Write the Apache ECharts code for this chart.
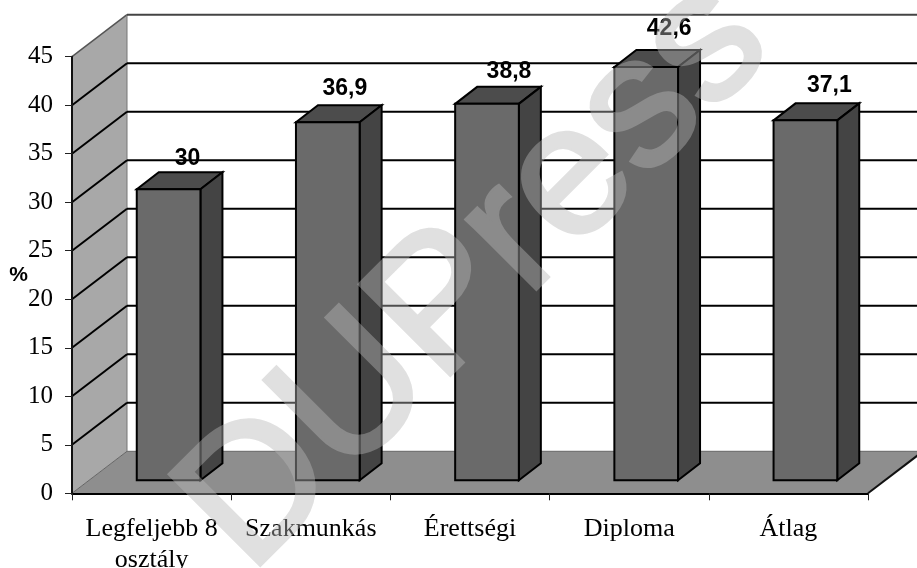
<!DOCTYPE html>
<html>
<head>
<meta charset="utf-8">
<style>
  html, body { margin: 0; padding: 0; background: #fff; }
  #chart { width: 917px; height: 568px; }
</style>
<script src="https://cdn.jsdelivr.net/npm/echarts@6/dist/echarts.min.js"></script>
</head>
<body>
<div id="chart"></div>
<script>
const categories = ['Legfeljebb 8\nosztály', 'Szakmunkás', 'Érettségi', 'Diploma', 'Átlag'];
const values = [30, 36.9, 38.8, 42.6, 37.1];
const valueLabels = ['30', '36,9', '38,8', '42,6', '37,1'];
const yTicks = [5, 10, 15, 20, 25, 30, 35, 40, 45];

// fake 3d offsets, in pixels
const WALL_DX = 55;
const WALL_DY = -42;
const BAR_SHIFT_X = 17;
const BAR_SHIFT_Y = -13;
const BAR_DX = 22;
const BAR_DY = -17;
// the value labels sit unevenly in the original
const labelNudge = [[19, -31], [17, -34], [22, -32], [23, -38], [24, -35]];

const chart = echarts.init(document.getElementById('chart'));

function poly(points, fill) {
  return { type: 'polygon', shape: { points }, style: { fill, stroke: null } };
}

function line(x1, y1, x2, y2, stroke, lineWidth) {
  return { type: 'line', shape: { x1, y1, x2, y2 }, style: { stroke, lineWidth } };
}

function renderWalls(params) {
  const c = params.coordSys;
  const left = c.x;
  const right = c.x + c.width;
  const top = c.y;
  const bottom = c.y + c.height;
  return {
    type: 'group',
    children: [
      poly([[left, top], [left + WALL_DX, top + WALL_DY], [left + WALL_DX, bottom + WALL_DY], [left, bottom]], '#a8a8a8'),
      poly([[left, bottom], [left + WALL_DX, bottom + WALL_DY], [right + WALL_DX, bottom + WALL_DY], [right, bottom]], '#8e8e8e'),
      line(left, top, left + WALL_DX, top + WALL_DY, '#555', 1.5),
      line(left + WALL_DX, top + WALL_DY, left + WALL_DX, bottom + WALL_DY, '#777', 1),
      line(left, bottom, left + WALL_DX, bottom + WALL_DY, '#666', 1),
      line(left + WALL_DX, bottom + WALL_DY, right + WALL_DX, bottom + WALL_DY, '#666', 1),
      line(right, bottom, right + WALL_DX, bottom + WALL_DY, '#111', 2)
    ]
  };
}

function renderGridLine(params, api) {
  const c = params.coordSys;
  const y = api.coord([0, api.value(0)])[1];
  const left = c.x;
  const isTop = api.value(0) === 45;
  return {
    type: 'group',
    children: [
      line(left + WALL_DX, y + WALL_DY, c.x + c.width + WALL_DX, y + WALL_DY, isTop ? '#444' : '#000', 2),
      isTop ? { type: 'group' } : line(left, y, left + WALL_DX, y + WALL_DY, '#000', 2)
    ]
  };
}

function renderBar(params, api) {
  const idx = api.value(0);
  const top = api.coord([idx, api.value(1)]);
  const base = api.coord([idx, 0]);
  const w = api.size([1, 0])[0] * 0.4;
  const x0 = top[0] + BAR_SHIFT_X - w / 2;
  const x1 = x0 + w;
  const yTop = top[1] + BAR_SHIFT_Y;
  const yBase = base[1] + BAR_SHIFT_Y;
  const edge = { stroke: '#000', lineWidth: 2, lineJoin: 'miter' };
  const nudge = labelNudge[params.dataIndex];
  return {
    type: 'group',
    children: [
      { type: 'polygon', shape: { points: [[x0, yTop], [x0 + BAR_DX, yTop + BAR_DY], [x1 + BAR_DX, yTop + BAR_DY], [x1, yTop]] }, style: { fill: '#4c4c4c', ...edge } },
      { type: 'polygon', shape: { points: [[x1, yTop], [x1 + BAR_DX, yTop + BAR_DY], [x1 + BAR_DX, yBase + BAR_DY], [x1, yBase]] }, style: { fill: '#444444', ...edge } },
      { type: 'rect', shape: { x: x0, y: yTop, width: w, height: yBase - yTop }, style: { fill: '#6a6a6a', ...edge } },
      {
        type: 'text',
        x: x0 + w / 2 + nudge[0],
        y: yTop + nudge[1],
        style: {
          text: valueLabels[params.dataIndex],
          fill: '#000',
          font: 'bold 23px "Liberation Sans"',
          align: 'center',
          verticalAlign: 'middle'
        }
      }
    ]
  };
}

const option = {
  animation: false,
  backgroundColor: '#fff',
  grid: { left: 72, right: 49, top: 56.7, height: 436.6, outerBoundsMode: 'none' },
  xAxis: {
    type: 'category',
    data: categories,
    z: 5,
    axisLine: { lineStyle: { color: '#000', width: 2 } },
    axisTick: { show: true, alignWithLabel: false, length: 7, lineStyle: { color: '#222', width: 1 } },
    axisLabel: {
      color: '#000',
      fontFamily: 'Liberation Serif',
      fontSize: 26,
      lineHeight: 31,
      margin: 20,
      interval: 0
    }
  },
  yAxis: {
    type: 'value',
    min: 0,
    max: 45,
    interval: 5,
    z: 5,
    name: '%',
    nameLocation: 'middle',
    nameRotate: 0,
    nameGap: 44,
    nameMoveOverlap: false,
    nameTextStyle: { color: '#000', fontFamily: 'Liberation Sans', fontWeight: 'bold', fontSize: 21, padding: [0, 0, 6, 0] },
    splitLine: { show: false },
    axisLine: { show: true, lineStyle: { color: '#111', width: 2 } },
    axisTick: { show: true, length: 7, lineStyle: { color: '#222', width: 1 } },
    axisLabel: { color: '#000', fontFamily: 'Liberation Serif', fontSize: 25, margin: 19 }
  },
  series: [
    { type: 'custom', z: 1, silent: true, data: [0], renderItem: renderWalls },
    { type: 'custom', z: 2, silent: true, data: yTicks.map(v => [v]), encode: { y: 0 }, renderItem: renderGridLine },
    { type: 'custom', z: 3, silent: true, data: values.map((v, i) => [i, v]), encode: { x: 0, y: 1 }, renderItem: renderBar }
  ],
  graphic: [
    {
      type: 'text',
      zlevel: 1,
      x: 279,
      y: 605,
      rotation: Math.PI / 4,
      silent: true,
      style: {
        text: 'DUPress',
        font: '186px "Liberation Sans"',
        fill: 'rgb(183,183,183)',
        stroke: 'rgb(183,183,183)',
        lineWidth: 4,
        lineJoin: 'miter',
        align: 'left',
        verticalAlign: 'bottom'
      }
    }
  ]
};

chart.setOption(option);
// watermark sits on its own layer so fill and stroke don't double up
const layers = chart.getDom().querySelectorAll('canvas');
if (layers[1]) layers[1].style.opacity = 0.43;
window.addEventListener('resize', () => chart.resize());
</script>
</body>
</html>
